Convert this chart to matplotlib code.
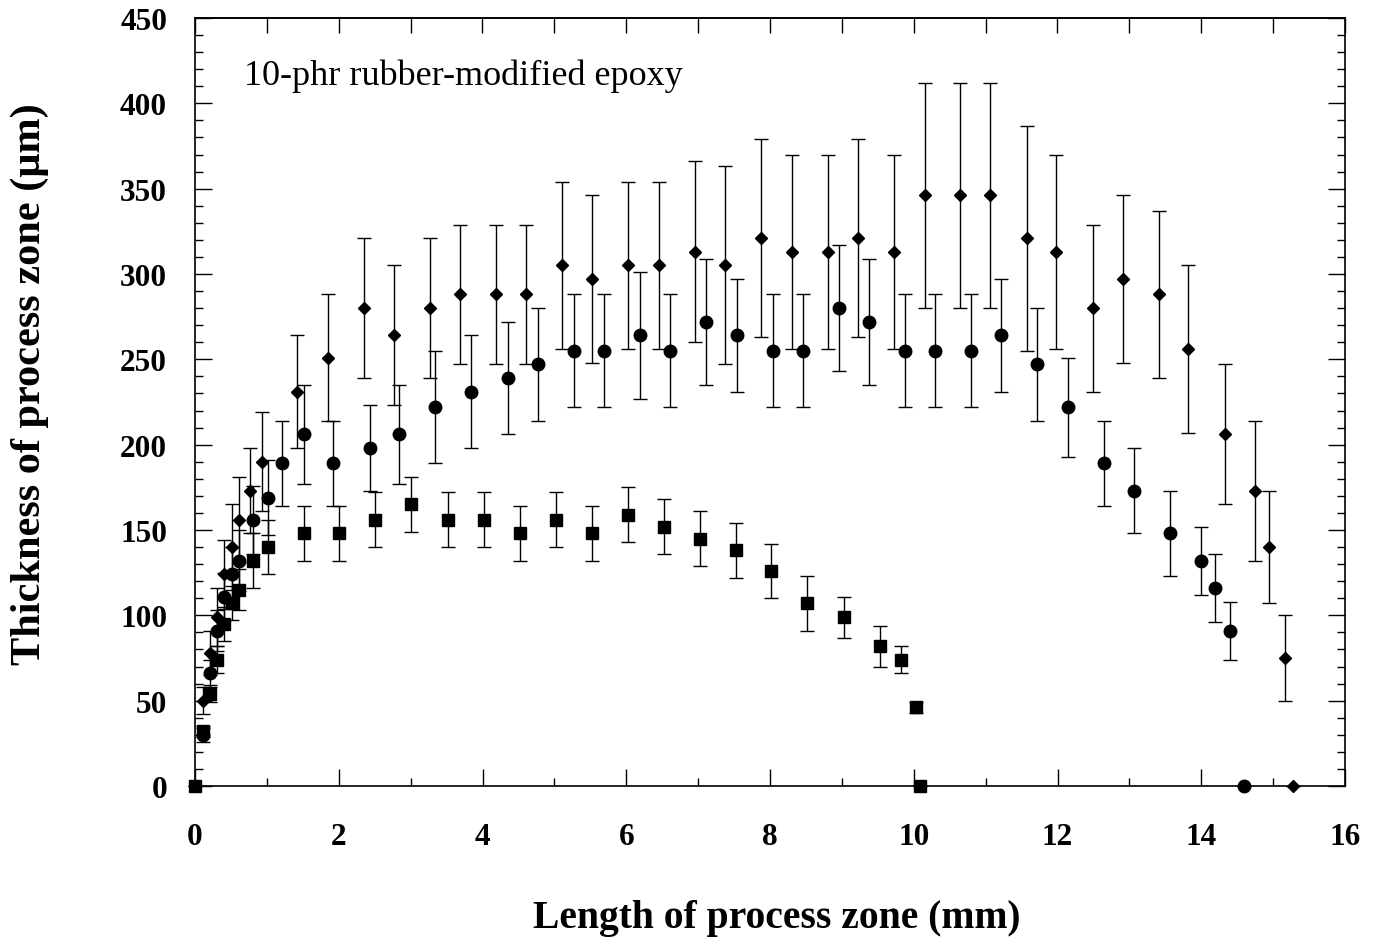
import matplotlib
matplotlib.use("Agg")
import matplotlib.pyplot as plt
from matplotlib.ticker import MultipleLocator

# Diamonds
dia_x = [0.11, 0.21, 0.31, 0.41, 0.51, 0.61, 0.77, 0.93, 1.42, 1.85, 2.35, 2.77, 3.27, 3.69,
         4.19, 4.61, 5.11, 5.53, 6.03, 6.45, 6.95, 7.38, 7.88, 8.30, 8.80, 9.22, 9.72, 10.15,
         10.65, 11.06, 11.57, 11.98, 12.49, 12.91, 13.41, 13.82, 14.33, 14.75, 14.94, 15.16, 15.28]
dia_y = [50, 78, 99, 124, 140, 156, 173, 190, 231, 251, 280, 264, 280, 288,
         288, 288, 305, 297, 305, 305, 313, 305, 321, 313, 313, 321, 313, 346,
         346, 346, 321, 313, 280, 297, 288, 256, 206, 173, 140, 75, 0]
dia_err = [8, 13, 17, 20, 25, 25, 25, 29, 33, 37, 41, 41, 41, 41,
           41, 41, 49, 49, 49, 49, 53, 58, 58, 57, 57, 58, 57, 66,
           66, 66, 66, 57, 49, 49, 49, 49, 41, 41, 33, 25, 0]

# Circles
cir_x = [0.11, 0.21, 0.31, 0.41, 0.51, 0.61, 0.80, 1.01, 1.21, 1.51, 1.92, 2.43, 2.84, 3.34,
         3.84, 4.35, 4.77, 5.27, 5.69, 6.19, 6.61, 7.11, 7.54, 8.04, 8.46, 8.96, 9.38, 9.88,
         10.30, 10.80, 11.22, 11.72, 12.15, 12.65, 13.07, 13.57, 14.00, 14.19, 14.40, 14.59]
cir_y = [30, 66, 91, 111, 124, 132, 156, 169, 189, 206, 189, 198, 206, 222,
         231, 239, 247, 255, 255, 264, 255, 272, 264, 255, 255, 280, 272, 255,
         255, 255, 264, 247, 222, 189, 173, 148, 132, 116, 91, 0]
cir_err = [4, 8, 12, 14, 16, 18, 20, 22, 25, 29, 25, 25, 29, 33,
           33, 33, 33, 33, 33, 37, 33, 37, 33, 33, 33, 37, 37, 33,
           33, 33, 33, 33, 29, 25, 25, 25, 20, 20, 17, 0]

# Squares
sq_x = [0.0, 0.11, 0.21, 0.30, 0.41, 0.51, 0.61, 0.80, 1.01, 1.51, 2.01, 2.51, 3.01, 3.52,
        4.02, 4.52, 5.02, 5.52, 6.02, 6.52, 7.02, 7.52, 8.02, 8.52, 9.03, 9.53, 9.82, 10.03, 10.09]
sq_y = [0, 32, 54, 74, 95, 107, 115, 132, 140, 148, 148, 156, 165, 156,
        156, 148, 156, 148, 159, 152, 145, 138, 126, 107, 99, 82, 74, 46, 0]
sq_err = [0, 3, 5, 8, 10, 10, 12, 16, 16, 16, 16, 16, 16, 16,
          16, 16, 16, 16, 16, 16, 16, 16, 16, 16, 12, 12, 8, 3, 0]

serif = ["Liberation Serif", "DejaVu Serif"]

fig = plt.figure(figsize=(13.81, 9.45), dpi=100)
ax = fig.add_axes([195 / 1381, 1 - 787 / 945, 1150 / 1381, 768 / 945])

common = dict(color="black", ecolor="black", elinewidth=1.0, capsize=5, capthick=1.0,
              linestyle="none", clip_on=False, zorder=3)
ax.errorbar(dia_x, dia_y, yerr=dia_err, fmt="D", markersize=6.5, **common)
ax.errorbar(cir_x, cir_y, yerr=cir_err, fmt="o", markersize=9, **common)
ax.errorbar(sq_x, sq_y, yerr=sq_err, fmt="s", markersize=8.5, **common)

ax.set_xlim(0, 16)
ax.set_ylim(0, 450)
ax.xaxis.set_major_locator(MultipleLocator(2))
ax.xaxis.set_minor_locator(MultipleLocator(1))
ax.yaxis.set_major_locator(MultipleLocator(50))
ax.yaxis.set_minor_locator(MultipleLocator(10))

ax.tick_params(which="both", direction="in", top=False, right=True, width=1.0)
ax.tick_params(which="major", length=12)
ax.tick_params(which="minor", length=6)
ax.tick_params(axis="x", which="major", pad=26)
ax.tick_params(axis="y", which="major", pad=20)

for lab in ax.get_xticklabels() + ax.get_yticklabels():
    lab.set_family(serif)
    lab.set_fontweight("bold")
    lab.set_fontsize(22.5)

# top axis: ticks every 1 mm, all the same length
top = ax.secondary_xaxis("top")
top.xaxis.set_major_locator(MultipleLocator(1))
top.tick_params(direction="in", length=11, width=1.0, labeltop=False)

for s in list(ax.spines.values()) + [top.spines["top"]]:
    s.set_linewidth(1.2)

ax.text(0.043, 0.925, "10-phr rubber-modified epoxy", transform=ax.transAxes,
        family=serif, fontsize=26, ha="left", va="center")

fig.text(777 / 1381, 1 - 928 / 945, "Length of process zone (mm)", family=serif,
         fontweight="bold", fontsize=28.5, ha="center", va="baseline")
fig.text(30 / 1381, 1 - 384 / 945, "Thickness of process zone (\u03bcm)", family=serif,
         fontweight="bold", fontsize=30.5, ha="center", va="center", rotation=90)

fig.savefig("out.png", dpi=100)
